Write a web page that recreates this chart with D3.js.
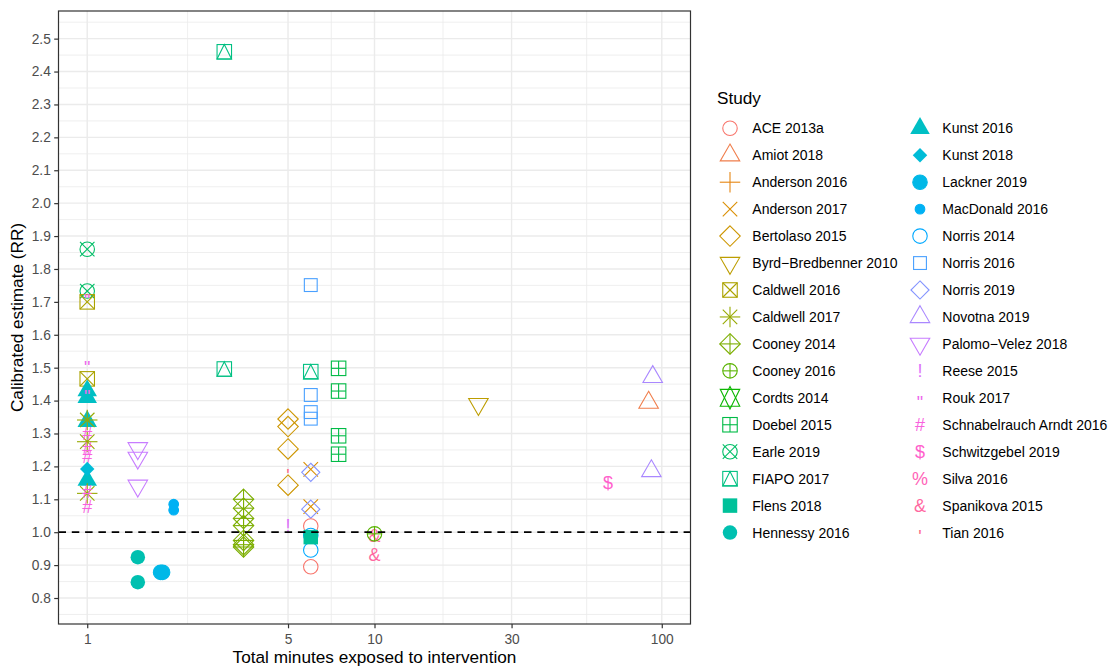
<!DOCTYPE html>
<html>
<head>
<meta charset="utf-8">
<script src="https://cdn.jsdelivr.net/npm/d3@7"></script>
<style>
body { margin: 0; background: #fff; }
svg { display: block; font-family: "Liberation Sans", Arial, sans-serif; }
</style>
</head>
<body>
<svg id="chart" width="1114" height="668"></svg>
<script>
// study levels (legend order) and their ggplot shape codes
const studies = ["ACE 2013a", "Amiot 2018", "Anderson 2016", "Anderson 2017", "Bertolaso 2015",
    "Byrd\u2212Bredbenner 2010", "Caldwell 2016", "Caldwell 2017", "Cooney 2014", "Cooney 2016",
    "Cordts 2014", "Doebel 2015", "Earle 2019", "FIAPO 2017", "Flens 2018", "Hennessy 2016",
    "Kunst 2016", "Kunst 2018", "Lackner 2019", "MacDonald 2016", "Norris 2014", "Norris 2016",
    "Norris 2019", "Novotna 2019", "Palomo\u2212Velez 2018", "Reese 2015", "Rouk 2017",
    "Schnabelrauch Arndt 2016", "Schwitzgebel 2019", "Silva 2016", "Spanikova 2015", "Tian 2016"];
const shapes = [1, 2, 3, 4, 5, 6, 7, 8, 9, 10, 11, 12, 13, 14, 15, 16, 17, 18, 19, 20, 21, 22, 23, 24, 25,
    "!", "\"", "#", "$", "%", "&", "'"];

// points: study, total minutes, calibrated RR
const ptStudy = [
    "Earle 2019", "Earle 2019", "Caldwell 2016", "Caldwell 2016",
    "Kunst 2016", "Kunst 2016", "Kunst 2016", "Kunst 2016",
    "Caldwell 2017", "Caldwell 2017", "Caldwell 2017",
    "Schnabelrauch Arndt 2016", "Schnabelrauch Arndt 2016", "Schnabelrauch Arndt 2016",
    "Schnabelrauch Arndt 2016", "Schnabelrauch Arndt 2016",
    "Kunst 2018", "Rouk 2017", "Rouk 2017", "Rouk 2017",
    "Hennessy 2016", "Hennessy 2016",
    "Palomo\u2212Velez 2018", "Palomo\u2212Velez 2018", "Palomo\u2212Velez 2018",
    "Lackner 2019", "Lackner 2019", "MacDonald 2016", "MacDonald 2016",
    "FIAPO 2017", "FIAPO 2017", "FIAPO 2017",
    "Cooney 2014", "Cooney 2014", "Cooney 2014", "Cooney 2014", "Cooney 2014", "Cooney 2014", "Cooney 2014",
    "Bertolaso 2015", "Bertolaso 2015", "Bertolaso 2015", "Bertolaso 2015",
    "Anderson 2017", "Anderson 2017", "Norris 2019", "Norris 2019",
    "Norris 2016", "Norris 2016", "Norris 2016", "Norris 2016",
    "ACE 2013a", "ACE 2013a", "Norris 2014", "Norris 2014", "Flens 2018",
    "Reese 2015", "Tian 2016",
    "Doebel 2015", "Doebel 2015", "Doebel 2015", "Doebel 2015",
    "Spanikova 2015", "Cooney 2016", "Spanikova 2015",
    "Byrd\u2212Bredbenner 2010", "Schwitzgebel 2019", "Amiot 2018", "Novotna 2019", "Novotna 2019"];
const ptMinutes = [
    1, 1, 1, 1,
    1, 1, 1, 1,
    1, 1, 1,
    1, 1, 1, 1, 1,
    1, 1, 1, 1,
    1.5, 1.5,
    1.5, 1.5, 1.5,
    1.80, 1.83, 2, 2,
    3, 3, 6,
    3.5, 3.5, 3.5, 3.5, 3.5, 3.5, 3.5,
    5, 5, 5, 5,
    6, 6, 6, 6,
    6, 6, 6, 6,
    6, 6, 6, 6, 6,
    5, 5,
    7.5, 7.5, 7.5, 7.5,
    10, 10, 10,
    23, 65, 90, 93, 92];
const ptRR = [
    1.860, 1.733, 1.700, 1.466,
    1.430, 1.410, 1.337, 1.158,
    1.341, 1.275, 1.118,
    1.300, 1.255, 1.228, 1.123, 1.078,
    1.192, 1.718, 1.515, 1.424,
    0.924, 0.848,
    1.255, 1.226, 1.141,
    0.878, 0.878, 1.085, 1.067,
    2.460, 1.496, 1.488,
    1.100, 1.073, 1.042, 1.020, 0.975, 0.962, 0.955,
    1.344, 1.321, 1.253, 1.143,
    1.191, 1.078, 1.182, 1.070,
    1.751, 1.417, 1.365, 1.345,
    1.019, 0.895, 0.990, 0.946, 0.985,
    1.020, 1.184,
    1.498, 1.429, 1.293, 1.237,
    0.990, 0.995, 0.932,
    1.389, 1.150, 1.394, 1.472, 1.186];

const xTicks = [1, 5, 10, 30, 100];
const yTicks = [0.8, 0.9, 1.0, 1.1, 1.2, 1.3, 1.4, 1.5, 1.6, 1.7, 1.8, 1.9, 2.0, 2.1, 2.2, 2.3, 2.4, 2.5];
const refLine = 1;

// ggplot hue palette: polar Luv -> sRGB (as grDevices::hcl)
function hcl(h, c, l) {
    const hr = h * Math.PI / 180;
    const U = c * Math.cos(hr), V = c * Math.sin(hr);
    const Xn = 95.047, Yn = 100, Zn = 108.883;
    const den = Xn + 15 * Yn + 3 * Zn;
    const un = 4 * Xn / den, vn = 9 * Yn / den;
    const Y = l > 7.999592 ? Yn * Math.pow((l + 16) / 116, 3) : Yn * l / 903.3;
    const u = U / (13 * l) + un, v = V / (13 * l) + vn;
    const X = 9 * Y * u / (4 * v);
    const Z = Y * (12 - 3 * u - 20 * v) / (4 * v);
    const x = X / 100, y = Y / 100, z = Z / 100;
    const lin = [3.240479 * x - 1.537150 * y - 0.498535 * z,
        -0.969256 * x + 1.875992 * y + 0.041556 * z,
        0.055648 * x - 0.204043 * y + 1.057311 * z];
    const g = lin.map(t => {
        t = t > 0.0031308 ? 1.055 * Math.pow(t, 1 / 2.4) - 0.055 : 12.92 * t;
        return Math.round(Math.max(0, Math.min(1, t)) * 255);
    });
    return d3.rgb(g[0], g[1], g[2]).formatHex();
}
const colours = studies.map((s, i) => hcl((15 + i * 360 / studies.length) % 360, 100, 65));
const colour = d3.scaleOrdinal(studies, colours);
const shape = d3.scaleOrdinal(studies, shapes);

const svg = d3.select("#chart");
const panel = {left: 58.5, right: 690.5, top: 11, bottom: 624};

const x = d3.scaleLog().domain([Math.pow(10, -0.1), Math.pow(10, 2.1)]).range([panel.left, panel.right]);
const y = d3.scaleLinear().domain([0.721, 2.584]).range([panel.bottom, panel.top]);

// minor breaks halfway between majors (in transformed space)
function minorBreaks(major, f, inv, dom) {
    const t = major.map(f);
    const step0 = t[1] - t[0], stepN = t[t.length - 1] - t[t.length - 2];
    const ext = [t[0] - step0, ...t, t[t.length - 1] + stepN];
    const out = [];
    for (let i = 0; i < ext.length - 1; i++) out.push(inv((ext[i] + ext[i + 1]) / 2));
    return out.filter(v => v >= dom[0] && v <= dom[1]);
}
const xMinor = minorBreaks(xTicks, Math.log10, v => Math.pow(10, v), x.domain());
const yMinor = minorBreaks(yTicks, v => v, v => v, y.domain());

const grid = svg.append("g");
grid.selectAll(".xminor").data(xMinor).enter().append("line")
    .attr("x1", d => x(d)).attr("x2", d => x(d)).attr("y1", panel.top).attr("y2", panel.bottom)
    .attr("stroke", "#EBEBEB").attr("stroke-width", 0.8);
grid.selectAll(".yminor").data(yMinor).enter().append("line")
    .attr("y1", d => y(d)).attr("y2", d => y(d)).attr("x1", panel.left).attr("x2", panel.right)
    .attr("stroke", "#EBEBEB").attr("stroke-width", 0.8);
grid.selectAll(".xmajor").data(xTicks).enter().append("line")
    .attr("x1", d => x(d)).attr("x2", d => x(d)).attr("y1", panel.top).attr("y2", panel.bottom)
    .attr("stroke", "#EBEBEB").attr("stroke-width", 1.4);
grid.selectAll(".ymajor").data(yTicks).enter().append("line")
    .attr("y1", d => y(d)).attr("y2", d => y(d)).attr("x1", panel.left).attr("x2", panel.right)
    .attr("stroke", "#EBEBEB").attr("stroke-width", 1.4);

// R point symbols
const TRC0 = 1.5551203, TRC1 = TRC0 * Math.sqrt(3) / 2, TRC2 = TRC0 / 2;
const SQRC = 0.8862269, DMDC = 1.2533141;
const inkMid = {"!": 0.36, "\"": 0.6, "#": 0.35, "$": 0.35, "%": 0.36, "&": 0.36, "'": 0.6};

function drawSymbol(sel, code, col) {
    const R = 7.24, sw = 1.1;
    const st = el => el.attr("fill", "none").attr("stroke", col).attr("stroke-width", sw);
    const fl = el => el.attr("fill", col).attr("stroke", "none");
    const ln = (x1, y1, x2, y2) => st(sel.append("line").attr("x1", x1).attr("y1", y1).attr("x2", x2).attr("y2", y2));
    const plus = h => { ln(-h, 0, h, 0); ln(0, -h, 0, h); };
    const cross = h => { ln(-h, -h, h, h); ln(-h, h, h, -h); };
    const circle = r => sel.append("circle").attr("r", r);
    const square = h => sel.append("rect").attr("x", -h).attr("y", -h).attr("width", 2 * h).attr("height", 2 * h);
    const poly = pts => sel.append("polygon").attr("points", pts.map(p => p.join(",")).join(" "));
    const r = TRC0 * R, xc = TRC1 * R, yc = TRC2 * R;
    const triUp = () => poly([[0, -r], [xc, yc], [-xc, yc]]);
    const triDown = () => poly([[0, r], [xc, -yc], [-xc, -yc]]);
    const diamond = h => poly([[0, -h], [h, 0], [0, h], [-h, 0]]);

    if (typeof code === "string") {
        const fs = 18;
        sel.append("text").text(code).attr("text-anchor", "middle")
            .attr("y", inkMid[code] * fs).attr("font-size", fs).attr("fill", col);
        return;
    }
    switch (code) {
        case 0: st(square(R)); break;
        case 1: st(circle(R)); break;
        case 2: st(triUp()); break;
        case 3: plus(Math.SQRT2 * R); break;
        case 4: cross(R); break;
        case 5: st(diamond(Math.SQRT2 * R)); break;
        case 6: st(triDown()); break;
        case 7: st(square(R)); cross(R); break;
        case 8: cross(R); plus(Math.SQRT2 * R); break;
        case 9: st(diamond(Math.SQRT2 * R)); plus(Math.SQRT2 * R); break;
        case 10: st(circle(R)); plus(R); break;
        case 11: {
            const yy = 0.5 * (yc + r);
            st(poly([[0, r], [xc, -yy], [-xc, -yy]]));
            st(poly([[0, -r], [xc, yy], [-xc, yy]]));
            break;
        }
        case 12: st(square(R)); plus(R); break;
        case 13: st(circle(R)); cross(R); break;
        case 14: st(square(R)); st(poly([[0, -R], [R, R], [-R, R]])); break;
        case 15: fl(square(R)); break;
        case 16: fl(circle(R)); break;
        case 17: fl(triUp()); break;
        case 18: fl(diamond(R)); break;
        case 19: fl(circle(R)).attr("stroke", col).attr("stroke-width", sw); break;
        case 20: fl(circle(R * 2 / 3)).attr("stroke", col).attr("stroke-width", sw); break;
        case 21: st(circle(R)); break;
        case 22: st(square(R * SQRC)); break;
        case 23: st(diamond(R * DMDC)); break;
        case 24: st(triUp()); break;
        case 25: st(triDown()); break;
    }
}

// points
const pts = svg.append("g");
ptStudy.forEach((s, i) => {
    const g = pts.append("g").attr("transform", "translate(" + x(ptMinutes[i]) + "," + y(ptRR[i]) + ")");
    drawSymbol(g, shape(s), colour(s));
});

// reference line
svg.append("line")
    .attr("x1", panel.left).attr("x2", panel.right)
    .attr("y1", y(refLine)).attr("y2", y(refLine))
    .attr("stroke", "#000").attr("stroke-width", 1.7).attr("stroke-dasharray", "7.5,5.8");

// panel border
svg.append("rect")
    .attr("x", panel.left).attr("y", panel.top)
    .attr("width", panel.right - panel.left).attr("height", panel.bottom - panel.top)
    .attr("fill", "none").attr("stroke", "#333333").attr("stroke-width", 1.2);

// axes
const yAxis = svg.append("g").attr("transform", "translate(" + panel.left + ",0)")
    .call(d3.axisLeft(y).tickValues(yTicks).tickFormat(d3.format(".1f")).tickSize(4.3).tickPadding(3.4));
const xAxis = svg.append("g").attr("transform", "translate(0," + panel.bottom + ")")
    .call(d3.axisBottom(x).tickValues(xTicks).tickFormat(d3.format("d")).tickSize(4.3).tickPadding(5.8));
[yAxis, xAxis].forEach(a => {
    a.select(".domain").remove();
    a.selectAll(".tick line").attr("stroke", "#333333").attr("stroke-width", 1.2);
    a.selectAll(".tick text").attr("fill", "#4D4D4D").attr("font-size", 13.75)
        .attr("font-family", "Liberation Sans, Arial, sans-serif");
});

// axis titles
svg.append("text").text("Total minutes exposed to intervention")
    .attr("x", (panel.left + panel.right) / 2).attr("y", 663)
    .attr("text-anchor", "middle").attr("font-size", 17.2).attr("fill", "#000");
svg.append("text").text("Calibrated estimate (RR)")
    .attr("transform", "translate(23," + (panel.top + panel.bottom) / 2 + ") rotate(-90)")
    .attr("text-anchor", "middle").attr("font-size", 17.2).attr("fill", "#000");

// legend
const legend = svg.append("g");
legend.append("text").text("Study").attr("x", 717).attr("y", 104.3)
    .attr("font-size", 17.2).attr("fill", "#000");
const perCol = Math.ceil(studies.length / 2);
studies.forEach((s, i) => {
    const col = Math.floor(i / perCol), row = i % perCol;
    const kx = col === 0 ? 730 : 920, ky = 128.3 + row * 26.95;
    const g = legend.append("g").attr("transform", "translate(" + kx + "," + ky + ")");
    drawSymbol(g, shape(s), colour(s));
    legend.append("text").text(s).attr("x", kx + 22.3).attr("y", ky).attr("dy", "0.36em")
        .attr("font-size", 14).attr("fill", "#000");
});
</script>
</body>
</html>
